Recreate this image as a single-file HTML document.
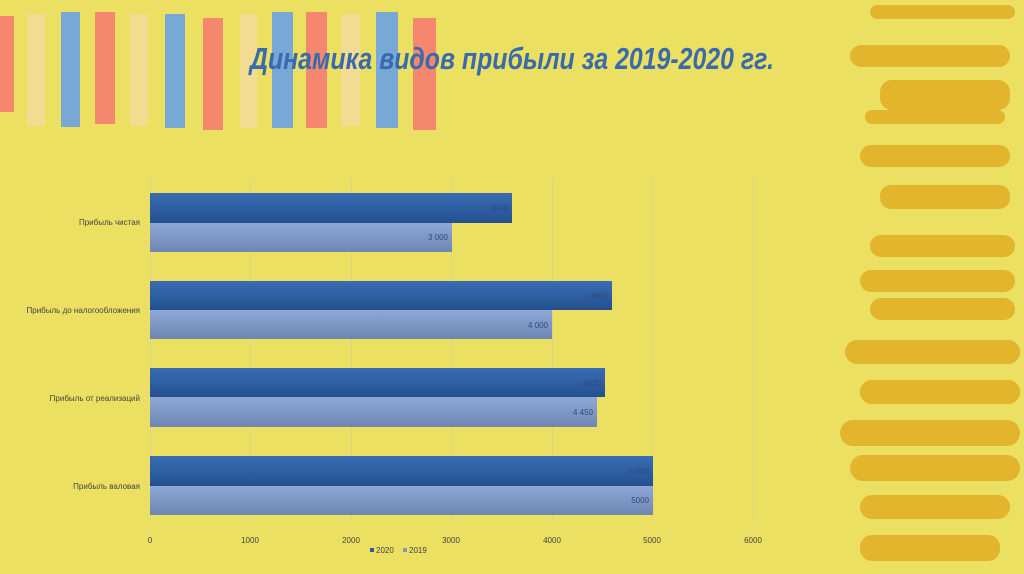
<!DOCTYPE html>
<html><head><meta charset="utf-8"><style>
html,body{margin:0;padding:0;background:#EBE062;}
svg{display:block;}
text{font-family:"Liberation Sans",sans-serif;}
</style></head><body>
<svg width="1024" height="574" viewBox="0 0 1024 574">
<defs>
<linearGradient id="g20" x1="0" y1="0" x2="0" y2="1"><stop offset="0" stop-color="#3A6DB5"/><stop offset="1" stop-color="#24508F"/></linearGradient>
<linearGradient id="g19" x1="0" y1="0" x2="0" y2="1"><stop offset="0" stop-color="#8EA8D8"/><stop offset="1" stop-color="#6E86B2"/></linearGradient>
</defs>
<rect width="1024" height="574" fill="#EBE062"/>
<g>
<rect x="0" y="16" width="14" height="96" fill="#F4876E"/>
<rect x="27" y="14" width="18" height="112" fill="#F1DC92"/>
<rect x="61" y="12" width="19" height="115" fill="#78A9D6"/>
<rect x="95" y="12" width="20" height="112" fill="#F4876E"/>
<rect x="130" y="14" width="18" height="112" fill="#F1DC92"/>
<rect x="165" y="14" width="20" height="114" fill="#78A9D6"/>
<rect x="203" y="18" width="20" height="112" fill="#F4876E"/>
<rect x="240" y="14" width="17" height="114" fill="#F1DC92"/>
<rect x="272" y="12" width="21" height="116" fill="#78A9D6"/>
<rect x="306" y="12" width="21" height="116" fill="#F4876E"/>
<rect x="341" y="14" width="19" height="112" fill="#F1DC92"/>
<rect x="376" y="12" width="22" height="116" fill="#78A9D6"/>
<rect x="413" y="18" width="23" height="112" fill="#F4876E"/>
</g>
<g fill="#E2B52D">
<rect x="870" y="5" width="145" height="14" rx="7"/>
<rect x="850" y="45" width="160" height="22" rx="11"/>
<rect x="880" y="80" width="130" height="30" rx="12"/>
<rect x="865" y="110" width="140" height="14" rx="7"/>
<rect x="860" y="145" width="150" height="22" rx="11"/>
<rect x="880" y="185" width="130" height="24" rx="11"/>
<rect x="870" y="235" width="145" height="22" rx="11"/>
<rect x="860" y="270" width="155" height="22" rx="11"/>
<rect x="870" y="298" width="145" height="22" rx="11"/>
<rect x="845" y="340" width="175" height="24" rx="12"/>
<rect x="860" y="380" width="160" height="24" rx="12"/>
<rect x="840" y="420" width="180" height="26" rx="13"/>
<rect x="850" y="455" width="170" height="26" rx="13"/>
<rect x="860" y="495" width="150" height="24" rx="12"/>
<rect x="860" y="535" width="140" height="26" rx="12"/>
</g>
<text x="250" y="69" font-size="31" font-style="italic" font-weight="bold" fill="#3A6AAE" textLength="524" lengthAdjust="spacingAndGlyphs">Динамика видов прибыли за 2019-2020 гг.</text>
<g stroke="#DCD48A" stroke-width="1">
<line x1="150.5" y1="178" x2="150.5" y2="520"/>
<line x1="250.5" y1="178" x2="250.5" y2="520"/>
<line x1="351.5" y1="178" x2="351.5" y2="520"/>
<line x1="451.5" y1="178" x2="451.5" y2="520"/>
<line x1="552.5" y1="178" x2="552.5" y2="520"/>
<line x1="652.5" y1="178" x2="652.5" y2="520"/>
<line x1="753.5" y1="178" x2="753.5" y2="520"/>
</g>
<rect x="150" y="193" width="362" height="30" fill="url(#g20)"/>
<rect x="150" y="223" width="302" height="29" fill="url(#g19)"/>
<rect x="150" y="281" width="462" height="29" fill="url(#g20)"/>
<rect x="150" y="310" width="402" height="29" fill="url(#g19)"/>
<rect x="150" y="368" width="455" height="29" fill="url(#g20)"/>
<rect x="150" y="397" width="447" height="30" fill="url(#g19)"/>
<rect x="150" y="456" width="503" height="30" fill="url(#g20)"/>
<rect x="150" y="486" width="503" height="29" fill="url(#g19)"/>
<g font-size="8" fill="#2E4A7A" text-anchor="end">
<text x="508" y="211">3599</text><text x="448" y="240">3 000</text>
<text x="608" y="299">4600</text><text x="548" y="328">4 000</text>
<text x="601" y="386">4520</text><text x="593" y="415">4 450</text>
<text x="649" y="474">5 000</text><text x="649" y="503">5000</text>
</g>
<g font-size="8" fill="#444" text-anchor="end">
<text x="140" y="225">Прибыль чистая</text>
<text x="140" y="313">Прибыль до налогообложения</text>
<text x="140" y="401">Прибыль от реализаций</text>
<text x="140" y="489">Прибыль валовая</text>
</g>
<g font-size="8" fill="#444" text-anchor="middle">
<text x="150" y="543">0</text><text x="250" y="543">1000</text><text x="351" y="543">2000</text>
<text x="451" y="543">3000</text><text x="552" y="543">4000</text><text x="652" y="543">5000</text><text x="753" y="543">6000</text>
</g>
<rect x="370" y="548" width="4" height="4" fill="#2E5A9C"/>
<text x="376" y="553" font-size="8" fill="#444">2020</text>
<rect x="403" y="548" width="4" height="4" fill="#8098C4"/>
<text x="409" y="553" font-size="8" fill="#444">2019</text>
</svg>
</body></html>
